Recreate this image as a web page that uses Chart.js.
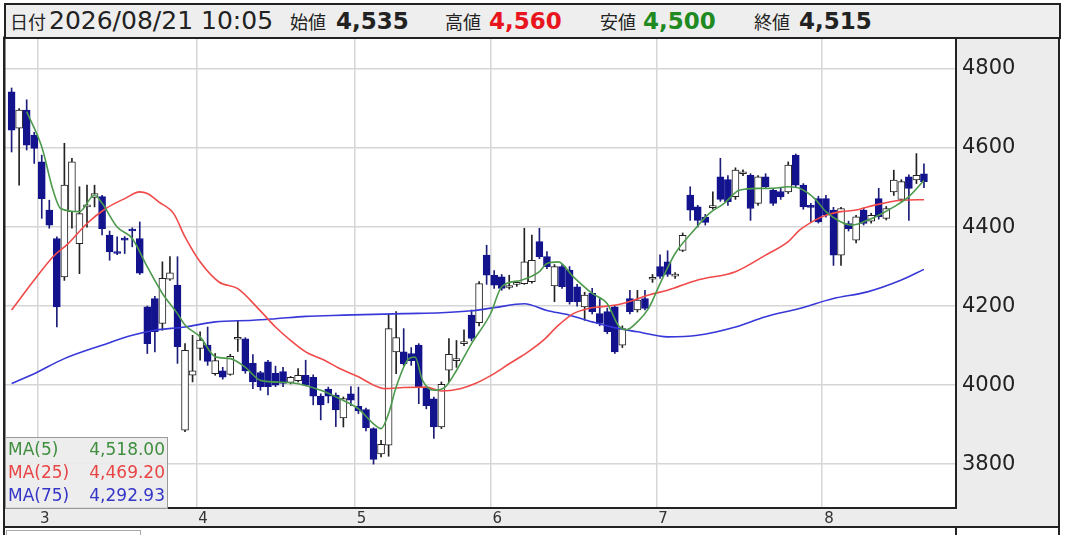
<!DOCTYPE html>
<html>
<head>
<meta charset="utf-8">
<script src="https://cdn.jsdelivr.net/npm/chart.js@4.4.1/dist/chart.umd.min.js"></script>
<style>
html, body { margin: 0; padding: 0; background: #fff; }
#wrap { position: relative; width: 1068px; height: 535px; overflow: hidden; font-family: "DejaVu Sans", sans-serif; }
#chart { position: absolute; left: 0; top: 0; }
#head { position: absolute; left: 4px; top: 3px; width: 1053px; height: 32px; background: #eeeeee; border: 2px solid #222; line-height: 32px; }
#head span { position: absolute; top: 0; white-space: nowrap; }
.lb { font-family: "Noto Sans CJK JP", sans-serif; font-size: 18px; color: #222; }
.dt { font-size: 25px; color: #222; }
.num { font-size: 23px; font-weight: bold; color: #222; }
#legend { position: absolute; left: 5px; top: 437px; width: 161px; height: 70px; background: rgba(236,236,236,0.92); border: 1px solid #9a9a9a; font-size: 17px; }
#legend div { position: relative; height: 23px; line-height: 23px; }
#legend .k { position: absolute; left: 2px; }
#legend .v { position: absolute; right: 2px; }
</style>
</head>
<body>
<div id="wrap">
  <canvas id="chart" width="1068" height="535"></canvas>
  <div id="head">
    <span class="lb" style="left:4px">日付</span>
    <span class="dt" style="left:43px">2026/08/21 10:05</span>
    <span class="lb" style="left:284px">始値</span>
    <span class="num" style="left:330px">4,535</span>
    <span class="lb" style="left:439px">高値</span>
    <span class="num" style="left:483px;color:#e8141e">4,560</span>
    <span class="lb" style="left:594px">安値</span>
    <span class="num" style="left:637px;color:#1f8a1f">4,500</span>
    <span class="lb" style="left:748px">終値</span>
    <span class="num" style="left:793px">4,515</span>
  </div>
  <div id="legend">
    <div style="color:#3f8f3f"><span class="k">MA(5)</span><span class="v">4,518.00</span></div>
    <div style="color:#e84545"><span class="k">MA(25)</span><span class="v">4,469.20</span></div>
    <div style="color:#3535c8"><span class="k">MA(75)</span><span class="v">4,292.93</span></div>
  </div>
</div>
<script>
// trading days shown on the chart
const dates = [
  '02/24','02/25','02/26','02/27',
  '03/02','03/03','03/04','03/05','03/06','03/09','03/10','03/11','03/12','03/13',
  '03/16','03/17','03/18','03/19','03/23','03/24','03/25','03/26','03/27','03/30','03/31',
  '04/01','04/02','04/03','04/06','04/07','04/08','04/09','04/10','04/13','04/14','04/15',
  '04/16','04/17','04/20','04/21','04/22','04/23','04/24','04/27','04/28','04/30',
  '05/01','05/07','05/08','05/11','05/12','05/13','05/14','05/15','05/18','05/19','05/20',
  '05/21','05/22','05/25','05/26','05/27','05/28','05/29',
  '06/01','06/02','06/03','06/04','06/05','06/08','06/09','06/10','06/11','06/12','06/15',
  '06/16','06/17','06/18','06/19','06/22','06/23','06/24','06/25','06/26','06/29','06/30',
  '07/01','07/02','07/03','07/06','07/07','07/08','07/09','07/10','07/13','07/14','07/15',
  '07/16','07/17','07/21','07/22','07/23','07/24','07/27','07/28','07/29','07/30','07/31',
  '08/03','08/04','08/05','08/06','08/07','08/10','08/12','08/13','08/14','08/17','08/18',
  '08/19','08/20','08/21'
];

const opens = [
  4742,4650,4696,4633,4565,4443,4371,4274,4439,4358,4451,4475,4477,4380,4335,4370,4392,4371,4198,4219,
  4156,4268,4253,3886,4025,4093,4101,4029,4036,4027,4116,4117,4055,4032,4059,4030,4034,4007,4011,4025,
  4020,3972,3990,3975,3917,3978,3946,3938,3890,3826,3848,4084,4084,4080,4101,3992,3965,3894,4038,4062,
  4105,4177,4158,4329,4278,4274,4247,4255,4257,4262,4363,4325,4251,4300,4291,4249,4198,4232,4181,4186,
  4198,4101,4219,4190,4219,4268,4300,4312,4276,4341,4481,4451,4425,4449,4527,4520,4477,4535,4531,4460,
  4527,4493,4490,4489,4582,4506,4455,4472,4472,4443,4329,4409,4367,4443,4415,4472,4422,4489,4470,4527,
  4519,4535
];
const highs = [
  4752,4700,4722,4640,4582,4468,4375,4612,4574,4502,4506,4506,4480,4390,4375,4376,4398,4413,4200,4225,
  4312,4325,4325,4105,4126,4135,4147,4080,4045,4078,4164,4120,4077,4035,4063,4048,4045,4022,4042,4063,
  4026,3978,3995,3980,3970,3996,3995,3942,3892,3860,4180,4186,4143,4095,4105,3996,3970,4008,4118,4113,
  4140,4190,4262,4354,4290,4280,4278,4262,4397,4380,4397,4338,4305,4305,4300,4255,4235,4245,4219,4195,
  4202,4150,4240,4240,4240,4280,4330,4340,4285,4385,4502,4455,4432,4489,4574,4530,4550,4545,4535,4530,
  4535,4497,4500,4565,4585,4510,4460,4478,4480,4450,4450,4415,4430,4448,4435,4498,4452,4544,4520,4532,
  4586,4560
];
const lows = [
  4590,4506,4595,4561,4422,4397,4147,4265,4397,4282,4400,4451,4380,4316,4330,4333,4350,4280,4080,4084,
  4139,4265,4055,3882,4008,4063,4050,4025,4015,4025,4085,4030,3991,3987,3975,3996,3996,4003,4008,3998,
  3950,3912,3955,3895,3894,3948,3928,3884,3800,3818,3820,4029,4050,4050,3953,3940,3865,3890,4008,4045,
  4100,4112,4150,4255,4245,4240,4243,4250,4255,4258,4320,4295,4211,4245,4205,4200,4164,4180,4150,4130,
  4080,4095,4180,4185,4190,4260,4270,4275,4270,4338,4417,4400,4405,4445,4465,4455,4470,4530,4417,4455,
  4500,4455,4470,4485,4500,4445,4413,4410,4425,4303,4303,4390,4360,4405,4410,4420,4418,4480,4465,4417,
  4510,4500
];
const closes = [
  4645,4696,4607,4599,4472,4405,4198,4506,4565,4434,4455,4485,4396,4337,4333,4367,4390,4283,4105,4135,
  4270,4284,4097,4088,4036,4114,4060,4062,4020,4073,4120,4036,4008,3996,3996,4000,4004,4020,4025,4000,
  3972,3950,3972,3937,3966,3962,3935,3892,3812,3850,4143,4120,4054,4062,3995,3948,3894,4002,4078,4066,
  4108,4118,4257,4278,4253,4245,4249,4257,4312,4316,4325,4300,4300,4249,4211,4211,4228,4186,4156,4135,
  4084,4143,4186,4215,4194,4270,4275,4280,4279,4379,4443,4417,4412,4452,4470,4464,4544,4537,4447,4527,
  4502,4460,4476,4557,4506,4451,4450,4413,4430,4329,4447,4396,4426,4409,4430,4426,4447,4519,4515,4498,
  4531,4515
];

// moving averages: position (candle index) and value
const ma5Pos = [2,4,5.5,6.5,9,11,12,14,16,18,20,22,23,25,27,29,31,33,37,41,44,46,48,49,50,51,52.5,53.5,54.5,56,
  57.5,59,61,63.5,65,67.5,70,71,72.5,74.5,77,79,80.5,81.5,83,84.5,86,88,90.5,92.5,94.5,96.5,99,101,103,104.5,
  106.5,108,110,111.5,113.5,115,117,119,121];
const ma5Val = [4692,4603,4493,4447,4439,4481,4460,4400,4371,4299,4232,4181,4152,4122,4072,4067,4045,4012,4006,3987,
  3961,3940,3902,3890,3928,3995,4063,4071,4012,3987,3995,4037,4105,4180,4249,4265,4287,4308,4312,4274,4232,4206,
  4150,4140,4160,4195,4257,4333,4392,4434,4460,4493,4498,4498,4502,4498,4472,4439,4413,4405,4417,4430,4451,4477,4518];

const ma25Pos = [0,3,5.5,7.5,10,12.5,15,17,18,19.5,21.5,23,25,27.5,30,32.5,35,37,39,41.5,43.5,46,48,49.5,52,55,57,
  59.5,61.5,64,66,68.5,70.5,72.5,74.5,76.5,78,80.5,82.5,84.5,87,91,96,100,103,104.5,106.5,108,110,112,113.5,
  115.5,118,121];
const ma25Val = [4190,4266,4325,4358,4409,4447,4472,4489,4485,4464,4434,4375,4312,4261,4244,4198,4147,4113,4084,4063,
  4042,4021,4000,3991,3994,3995,3985,3991,4004,4029,4054,4084,4113,4151,4181,4194,4198,4204,4215,4228,4240,4266,
  4287,4329,4363,4392,4417,4430,4439,4443,4451,4460,4468,4469.2];

const ma75Pos = [0,3,7,12,16,19,23,27,32,35,39,44,48,52,57,61,64,68,71,74,77,80,83,87,91,96,100,104.5,109,113.5,118,121];
const ma75Val = [4004,4029,4067,4101,4126,4139,4147,4160,4164,4168,4174,4177,4179,4181,4183,4188,4196,4206,4189,4177,
  4160,4145,4135,4122,4126,4147,4173,4194,4219,4236,4266,4292.93];

const yTicks = [3800, 4000, 4200, 4400, 4600, 4800];

// month gridlines sit between the last day of one month and the first of the next
const monthTicks = [];
const monthLabels = [];
dates.forEach((d, i) => {
  if (i > 0 && d.slice(0, 2) !== dates[i - 1].slice(0, 2)) {
    monthTicks.push(i - 0.5);
    monthLabels.push(String(parseInt(d.slice(0, 2), 10)));
  }
});

const idx = opens.map((_, i) => i);
const isUp = i => closes[i] >= opens[i];
const NAVY = '#13138e';

const frame = {
  id: 'frame',
  beforeDraw(chart) {
    const { ctx, chartArea: a } = chart;
    ctx.save();
    ctx.fillStyle = '#ececec';
    ctx.fillRect(a.right, a.top, 1059 - a.right, a.bottom - a.top);
    ctx.fillRect(4, a.bottom, 1055, 19);
    ctx.restore();
  },
  afterDraw(chart) {
    const { ctx, chartArea: a } = chart;
    ctx.save();
    ctx.strokeStyle = '#222';
    ctx.lineWidth = 2;
    ctx.strokeRect(a.left - 0.5, a.top, a.right - a.left + 0.5, a.bottom - a.top);
    ctx.beginPath();
    ctx.moveTo(1059, a.top); ctx.lineTo(1059, 535);
    ctx.moveTo(4, a.top); ctx.lineTo(4, 535);
    ctx.moveTo(4, a.bottom + 19); ctx.lineTo(1059, a.bottom + 19);
    ctx.moveTo(a.right, a.bottom + 19); ctx.lineTo(a.right, 535);
    ctx.stroke();
    ctx.strokeStyle = '#aaa';
    ctx.lineWidth = 1;
    ctx.strokeRect(6.5, 530.5, 134, 10);
    ctx.restore();
  }
};

new Chart(document.getElementById('chart'), {
  type: 'bar',
  data: {
    datasets: [
      {
        type: 'line', label: 'MA(5)', order: 0,
        data: ma5Pos.map((x, k) => ({ x, y: ma5Val[k] })),
        borderColor: '#4c9a4c', borderWidth: 1.6, pointRadius: 0, cubicInterpolationMode: 'monotone'
      },
      {
        type: 'line', label: 'MA(25)', order: 0,
        data: ma25Pos.map((x, k) => ({ x, y: ma25Val[k] })),
        borderColor: '#f04a4a', borderWidth: 1.6, pointRadius: 0, cubicInterpolationMode: 'monotone'
      },
      {
        type: 'line', label: 'MA(75)', order: 0,
        data: ma75Pos.map((x, k) => ({ x, y: ma75Val[k] })),
        borderColor: '#3838d8', borderWidth: 1.6, pointRadius: 0, cubicInterpolationMode: 'monotone'
      },
      {
        label: 'body', order: 2, grouped: false,
        data: idx.map(i => ({ x: i, y: [opens[i], closes[i]] })),
        backgroundColor: idx.map(i => isUp(i) ? '#ffffff' : NAVY),
        borderColor: idx.map(i => isUp(i) ? '#222222' : NAVY),
        borderWidth: 1, borderSkipped: false, barThickness: 7, minBarLength: 2
      },
      {
        label: 'wick', order: 3, grouped: false,
        data: idx.map(i => ({ x: i, y: [lows[i], highs[i]] })),
        backgroundColor: idx.map(i => isUp(i) ? '#222222' : '#1d1d7a'),
        barThickness: 1
      }
    ]
  },
  options: {
    responsive: false,
    animation: false,
    layout: { padding: { left: 5, top: 37, right: 9, bottom: 8 } },
    plugins: { legend: { display: false }, tooltip: { enabled: false } },
    scales: {
      x: {
        type: 'linear', position: 'bottom', min: -0.875, max: 125.25, offset: false,
        afterBuildTicks: s => { s.ticks = monthTicks.map(v => ({ value: v })); },
        afterFit: s => { s.height = 19; },
        border: { display: false },
        grid: { color: '#d6d6d6', lineWidth: 1.5, drawTicks: false, offset: false },
        ticks: {
          autoSkip: false, maxRotation: 0, padding: 2, align: 'start', labelOffset: 2,
          color: '#333', font: { family: 'DejaVu Sans', size: 15 },
          callback: v => monthLabels[monthTicks.indexOf(v)]
        }
      },
      y: {
        position: 'right', min: 3689, max: 4881,
        afterBuildTicks: s => { s.ticks = yTicks.map(v => ({ value: v })); },
        afterFit: s => { s.width = 103; },
        border: { display: false },
        grid: { color: '#d6d6d6', lineWidth: 1.5, drawTicks: false },
        ticks: {
          padding: 6, color: '#222', font: { family: 'DejaVu Sans', size: 21 },
          callback: v => String(v)
        }
      }
    }
  },
  plugins: [frame]
});
</script>
</body>
</html>
